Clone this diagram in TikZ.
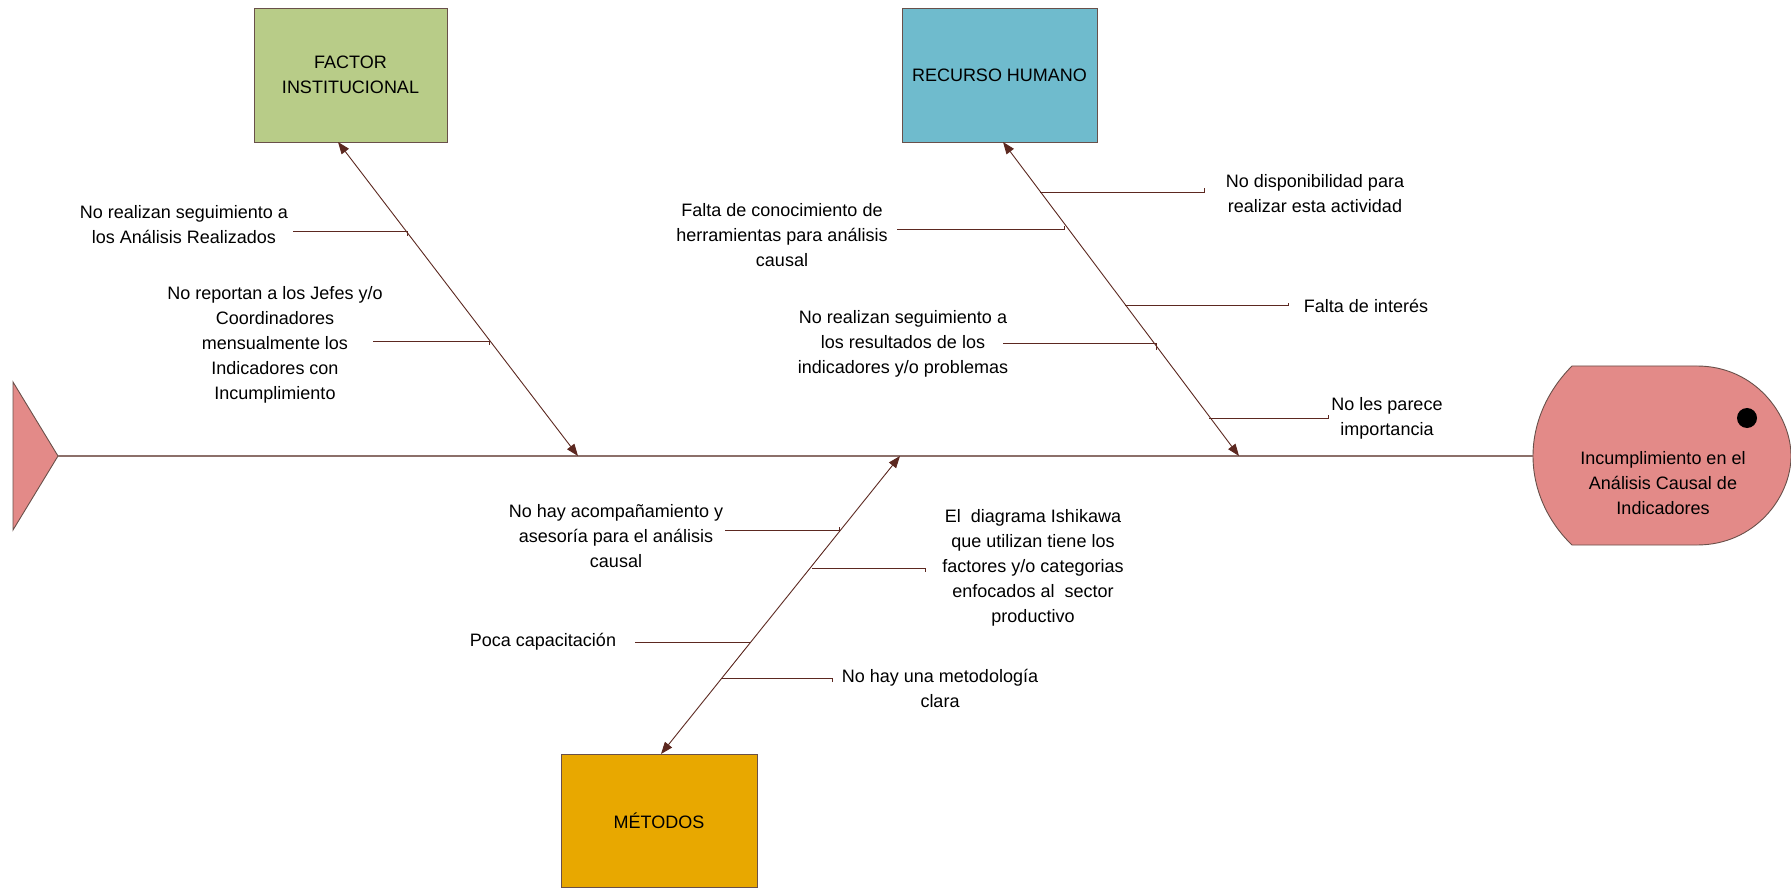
\documentclass[tikz,border=0pt]{standalone}
\usepackage{fontspec}
\setmainfont{Liberation Sans}
\usetikzlibrary{arrows.meta}
\definecolor{bonec}{RGB}{92,40,32}
\definecolor{spinec}{RGB}{140,112,106}
\definecolor{edgec}{RGB}{105,80,74}
\definecolor{facc}{RGB}{184,204,136}
\definecolor{recc}{RGB}{111,187,205}
\definecolor{metc}{RGB}{232,168,0}
\definecolor{headc}{RGB}{227,138,136}
\begin{document}
\begin{tikzpicture}[x=1pt,y=-1pt,
  txt/.style={font=\fontsize{18}{25}\selectfont, align=center, inner sep=0pt},
  catbox/.style={draw=edgec, line width=0.9pt, font=\fontsize{18}{25}\selectfont, align=center, inner sep=0pt},
  bone/.style={draw=bonec, line width=0.9pt, {Triangle[length=12pt,width=9pt]}-{Triangle[length=12pt,width=9pt]}},
  twig/.style={draw=bonec, line width=1pt},
  spine/.style={draw=spinec, line width=1.5pt}]
\useasboundingbox (0,0) rectangle (1791,890);

% category boxes
\node[catbox, fill=facc, minimum width=193pt, minimum height=134pt] (fac) at (350.5,75) {FACTOR\\INSTITUCIONAL};
\node[catbox, fill=recc, minimum width=195pt, minimum height=134pt] (rec) at (999.5,75) {RECURSO HUMANO};
\node[catbox, fill=metc, minimum width=196pt, minimum height=133pt] (met) at (659,820.5) {MÉTODOS};

% tail
\filldraw[fill=headc, draw=edgec, line width=0.9pt] (13,382) -- (58,456) -- (13,530) -- cycle;
\coordinate (tail) at (58,456);

% head
\filldraw[fill=headc, draw=edgec, line width=0.9pt] (1572,366) -- (1697,366)
  .. controls (1755,366) and (1791,415) .. (1791,456)
  .. controls (1791,497) and (1755,545) .. (1697,545) -- (1572,545)
  .. controls (1548,522) and (1533,490) .. (1533,456)
  .. controls (1533,422) and (1548,390) .. (1572,366) -- cycle;
\fill[black] (1747,418) circle (10pt);
\coordinate (headL) at (1533,456);
\node[txt] (head) at (1663,483) {Incumplimiento en el\\Análisis Causal de\\Indicadores};

% spine
\draw[spine] (tail) -- (headL);

% bones
\coordinate (fA) at (338,142); \coordinate (fB) at (578,456);
\coordinate (rA) at (1003,142); \coordinate (rB) at (1239,456);
\coordinate (mA) at (900,456); \coordinate (mB) at (661,754);
\draw[bone] (fA) -- (fB);
\draw[bone] (rA) -- (rB);
\draw[bone] (mA) -- (mB);

% labels
\node[txt] (l1) at (184,225) {No realizan seguimiento a\\los Análisis Realizados};
\node[txt] (l2) at (275,345) {No reportan a los Jefes y/o\\Coordinadores\\mensualmente los\\Indicadores con\\Incumplimiento};
\node[txt] (r1) at (1315,194) {No disponibilidad para\\realizar esta actividad};
\node[txt] (r2) at (782,235) {Falta de conocimiento de\\herramientas para análisis\\causal};
\node[txt] (r3) at (1366,306) {Falta de interés};
\node[txt] (r4) at (903,344) {No realizan seguimiento a\\los resultados de los\\indicadores y/o problemas};
\node[txt] (r5) at (1387,418) {No les parece\\importancia};
\node[txt] (m1) at (616,536) {No hay acompañamiento y\\asesoría para el análisis\\causal};
\node[txt] (m2) at (1033,568) {El\ \ diagrama Ishikawa\\que utilizan tiene los\\factores y/o categorias\\enfocados al\ \ sector\\productivo};
\node[txt] (m3) at (543,642) {Poca capacitación};
\node[txt] (m4) at (940,688) {No hay una metodología\\clara};

% twig end points
\coordinate (l1a) at (293,232); \coordinate (l1b) at (407,232);
\coordinate (l2a) at (373,342); \coordinate (l2b) at (489,342);
\coordinate (r1a) at (1040,193); \coordinate (r1b) at (1204,193);
\coordinate (r2a) at (897,230); \coordinate (r2b) at (1064,230);
\coordinate (r3a) at (1125,306); \coordinate (r3b) at (1288,306);
\coordinate (r4a) at (1003,344); \coordinate (r4b) at (1156,344);
\coordinate (r5a) at (1209,418); \coordinate (r5b) at (1328,418);
\coordinate (m1a) at (725,530); \coordinate (m1b) at (839,530);
\coordinate (m2a) at (812,568); \coordinate (m2b) at (925,568);
\coordinate (m3a) at (635,642); \coordinate (m3b) at (750,642);
\coordinate (m4a) at (722,678); \coordinate (m4b) at (832,678);

\draw[twig] (l1a) -- (l1b) -- ++(0,4);
\draw[twig] (l2a) -- (l2b) -- ++(0,3);
\draw[twig] (r1a) -- (r1b) -- ++(0,-5);
\draw[twig] (r2a) -- (r2b) -- ++(0,-4);
\draw[twig] (r3a) -- (r3b) -- ++(0,-3);
\draw[twig] (r4a) -- (r4b) -- ++(0,6);
\draw[twig] (r5a) -- (r5b) -- ++(0,-3);
\draw[twig] (m1a) -- (m1b) -- ++(0,-3);
\draw[twig] (m2a) -- (m2b) -- ++(0,4);
\draw[twig] (m3a) -- (m3b);
\draw[twig] (m4a) -- (m4b) -- ++(0,4);
\end{tikzpicture}
\end{document}
